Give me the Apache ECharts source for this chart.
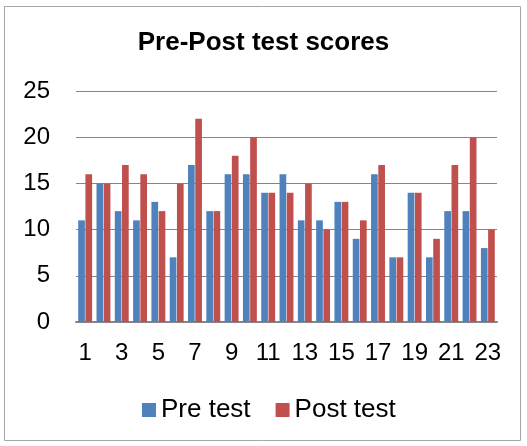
<!DOCTYPE html>
<html>
<head>
<meta charset="utf-8">
<script src="https://cdn.jsdelivr.net/npm/echarts@6/dist/echarts.min.js"></script>
<style>
  html, body { margin: 0; padding: 0; background: #fff; }
  #chart { width: 527px; height: 446px; }
</style>
</head>
<body>
<div id="chart"></div>
<script>
var categories = ["1","2","3","4","5","6","7","8","9","10","11","12","13","14","15","16","17","18","19","20","21","22","23"];
var preTest  = [11, 15, 12, 11, 13, 7, 17, 12, 16, 16, 14, 16, 11, 11, 13, 9, 16, 7, 14, 7, 12, 12, 8];
var postTest = [16, 15, 17, 16, 12, 15, 22, 12, 18, 20, 14, 14, 15, 10, 13, 11, 17, 7, 14, 9, 17, 20, 10];

var font = "Liberation Sans, Arial, sans-serif";
var myChart = echarts.init(document.getElementById("chart"));

myChart.setOption({
  animation: false,
  color: ["#4F81BD", "#C0504D"],
  title: {
    text: "Pre-Post test scores",
    left: "center",
    top: 30,
    padding: [0, 0, 0, 0],
    textStyle: { fontFamily: font, fontSize: 26, fontWeight: "bold", color: "#000" }
  },
  // outer frame like the spreadsheet chart area
  graphic: [{
    type: "rect",
    shape: { x: 4.5, y: 6.5, width: 516, height: 434 },
    style: { fill: null, stroke: "#a6a6a6", lineWidth: 1 },
    silent: true
  }],
  legend: {
    top: 397,
    left: 142,
    padding: 0,
    itemWidth: 14,
    itemHeight: 14,
    itemGap: 25,
    icon: "rect",
    textStyle: { fontFamily: font, fontSize: 26, color: "#000" },
    data: ["Pre test", "Post test"]
  },
  grid: { left: 76, right: 30, top: 91, bottom: 124 },
  xAxis: {
    type: "category",
    data: categories,
    axisLine: { lineStyle: { color: "#868686", width: 2 } },
    axisTick: { show: false },
    axisLabel: {
      interval: 1,
      margin: 19,
      fontFamily: font,
      fontSize: 24,
      color: "#000"
    }
  },
  yAxis: {
    type: "value",
    min: 0,
    max: 25,
    interval: 5,
    axisLine: { show: false },
    axisTick: { show: false },
    axisLabel: { margin: 26, fontFamily: font, fontSize: 24, color: "#000" },
    splitLine: { lineStyle: { color: "#868686", width: 1 } }
  },
  series: [{
    name: "Pre test",
    type: "bar",
    data: preTest,
    barGap: "8%",
    barCategoryGap: "24%"
  }, {
    name: "Post test",
    type: "bar",
    data: postTest,
    barGap: "8%",
    barCategoryGap: "24%"
  }]
});
</script>
</body>
</html>
